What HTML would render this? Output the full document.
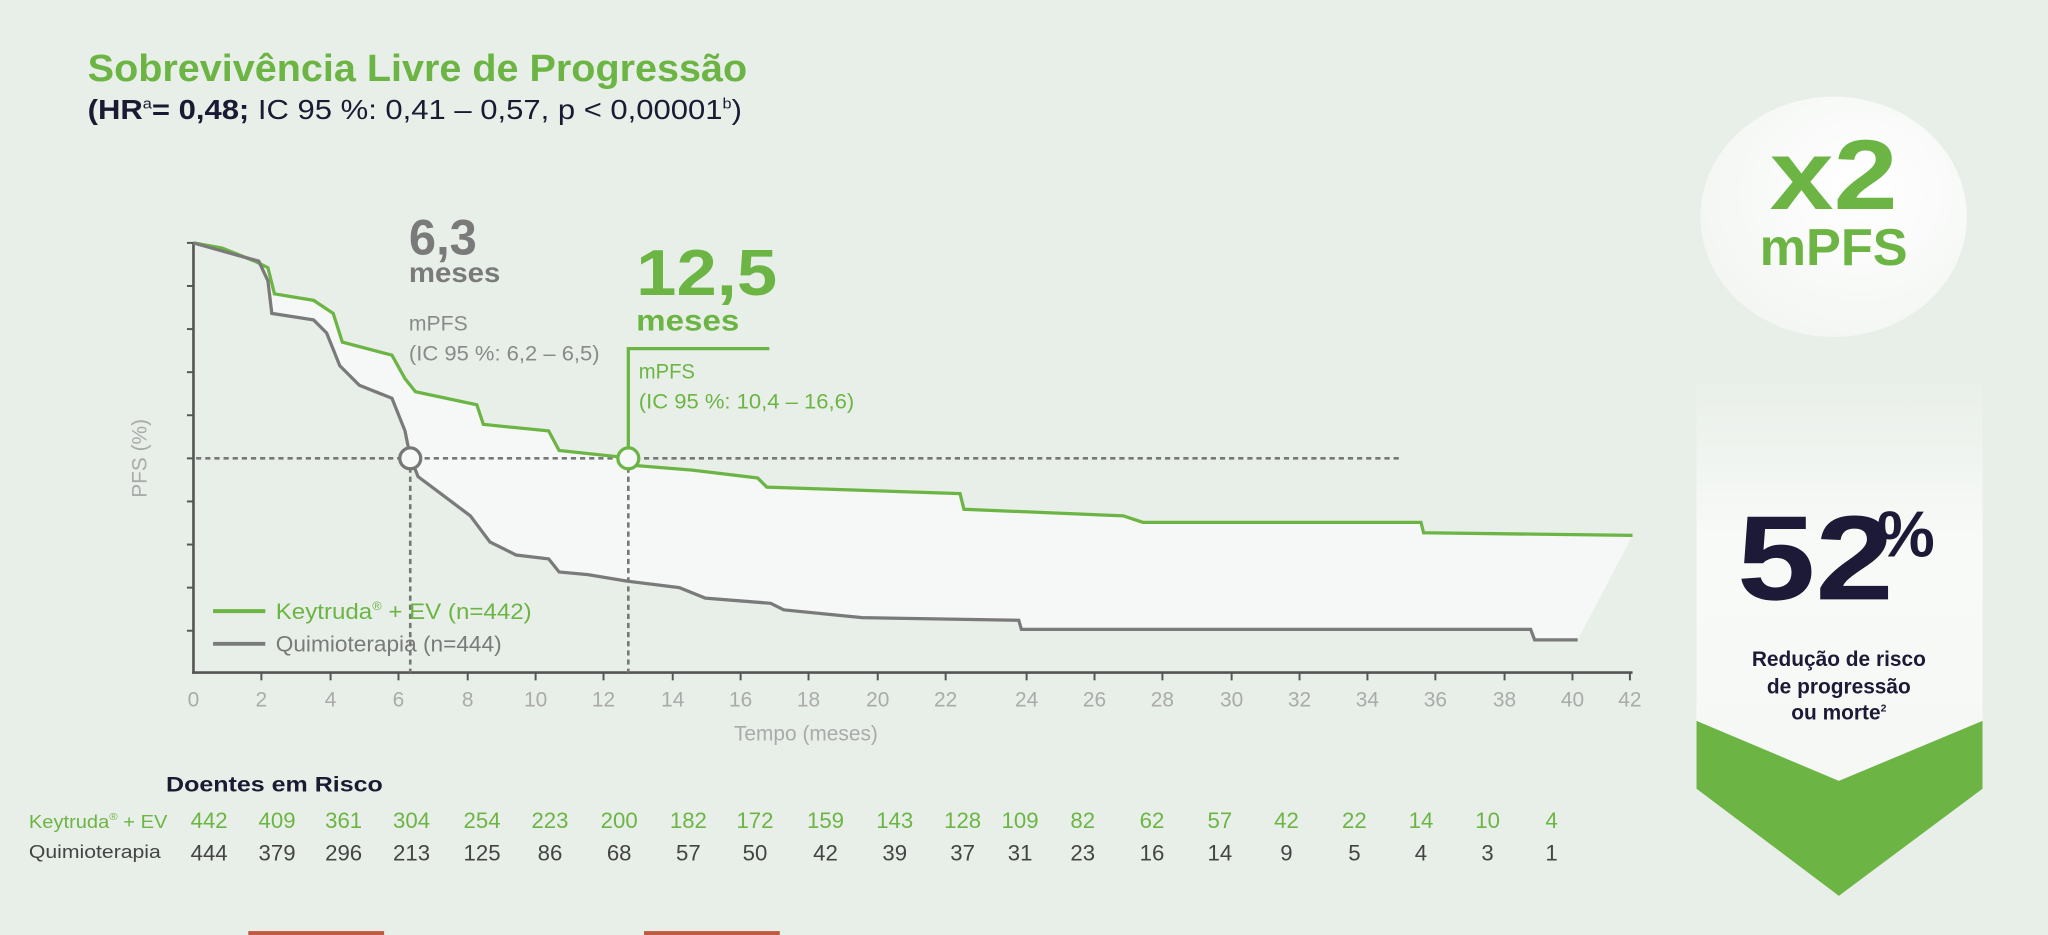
<!DOCTYPE html>
<html><head><meta charset="utf-8"><style>
html,body{margin:0;padding:0;background:#e8efe8;}
svg{display:block;}
text{font-family:"Liberation Sans",sans-serif;}
</style></head><body>
<svg width="2048" height="935" viewBox="0 0 1568 716" xmlns="http://www.w3.org/2000/svg">
<defs>
<radialGradient id="cg" cx="0.6" cy="0.4" r="0.7"><stop offset="0" stop-color="#ffffff"/><stop offset="1" stop-color="#f2f5f2"/></radialGradient>
<linearGradient id="bg2" x1="0" y1="0" x2="0" y2="1"><stop offset="0" stop-color="#e9efe9"/><stop offset="0.4" stop-color="#f8faf8"/><stop offset="1" stop-color="#f6f8f6"/></linearGradient>
</defs>
<rect width="1568" height="716" fill="#e8efe8"/>
<text x="67" y="62" font-size="29" font-weight="bold" fill="#6cb545" textLength="505" lengthAdjust="spacingAndGlyphs">Sobrevivência Livre de Progressão</text>
<text x="67" y="91" font-size="21" fill="#1a1a33" textLength="501" lengthAdjust="spacingAndGlyphs"><tspan font-weight="bold">(HR</tspan><tspan font-size="11" dy="-8">a</tspan><tspan dy="8" font-weight="bold">= 0,48;</tspan> IC 95 %: 0,41 – 0,57, p &lt; 0,00001<tspan font-size="11" dy="-8">b</tspan><tspan dy="8">)</tspan></text>

<path d="M148,186 L170,190 L195,200 L205,205 L210,225 L240,230 L255,240 L262,262 L300,272 L310,290 L318,300 L365,310 L370,325 L420,330 L428,345 L475,350 L480,356 L530,360 L580,366 L587,373 L735,378 L738,390 L860,395 L875,400 L1088,400 L1090,408 L1250,410 L1208,490 L1175,490 L1172,482 L782,482 L780,475 L660,473 L630,470 L600,467 L590,462 L540,458 L520,450 L480,445 L450,440 L428,438 L420,428 L395,425 L375,415 L360,395 L340,380 L320,365 L314,350 L310,330 L300,305 L275,295 L260,280 L250,255 L240,245 L208,240 L205,215 L198,200 L180,195 Z" fill="#f5f8f6"/>

<line x1="148" y1="186" x2="148" y2="516" stroke="#555" stroke-width="2"/>
<line x1="147" y1="515" x2="1250" y2="515" stroke="#555" stroke-width="2"/>
<g stroke="#555" stroke-width="1.5">
<line x1="143" y1="186" x2="148" y2="186"/><line x1="143" y1="219" x2="148" y2="219"/><line x1="143" y1="252" x2="148" y2="252"/><line x1="143" y1="285" x2="148" y2="285"/><line x1="143" y1="318" x2="148" y2="318"/><line x1="143" y1="351" x2="148" y2="351"/><line x1="143" y1="384" x2="148" y2="384"/><line x1="143" y1="417" x2="148" y2="417"/><line x1="143" y1="450" x2="148" y2="450"/><line x1="143" y1="483" x2="148" y2="483"/>
</g>
<g fill="#aaa" font-size="16" text-anchor="middle">
<text x="148" y="541">0</text><text x="200" y="541">2</text><text x="253" y="541">4</text><text x="305" y="541">6</text><text x="358" y="541">8</text><text x="410" y="541">10</text><text x="462" y="541">12</text><text x="515" y="541">14</text><text x="567" y="541">16</text><text x="619" y="541">18</text><text x="672" y="541">20</text><text x="724" y="541">22</text><text x="786" y="541">24</text><text x="838" y="541">26</text><text x="890" y="541">28</text><text x="943" y="541">30</text><text x="995" y="541">32</text><text x="1047" y="541">34</text><text x="1099" y="541">36</text><text x="1152" y="541">38</text><text x="1204" y="541">40</text><text x="1248" y="541">42</text>
<text x="617" y="567">Tempo (meses)</text>
</g>
<g stroke="#555" stroke-width="1.5">
<line x1="200" y1="515" x2="200" y2="521"/><line x1="253" y1="515" x2="253" y2="521"/><line x1="305" y1="515" x2="305" y2="521"/><line x1="358" y1="515" x2="358" y2="521"/><line x1="410" y1="515" x2="410" y2="521"/><line x1="462" y1="515" x2="462" y2="521"/><line x1="515" y1="515" x2="515" y2="521"/><line x1="567" y1="515" x2="567" y2="521"/><line x1="619" y1="515" x2="619" y2="521"/><line x1="672" y1="515" x2="672" y2="521"/><line x1="724" y1="515" x2="724" y2="521"/><line x1="786" y1="515" x2="786" y2="521"/><line x1="838" y1="515" x2="838" y2="521"/><line x1="890" y1="515" x2="890" y2="521"/><line x1="943" y1="515" x2="943" y2="521"/><line x1="995" y1="515" x2="995" y2="521"/><line x1="1047" y1="515" x2="1047" y2="521"/><line x1="1099" y1="515" x2="1099" y2="521"/><line x1="1152" y1="515" x2="1152" y2="521"/><line x1="1204" y1="515" x2="1204" y2="521"/><line x1="1248" y1="515" x2="1248" y2="521"/>
</g>
<text transform="translate(112,351) rotate(-90)" fill="#aaa" font-size="16" text-anchor="middle">PFS (%)</text>

<g stroke="#777" stroke-width="2" stroke-dasharray="4,3" fill="none">
<line x1="150" y1="351" x2="1072" y2="351"/>
<line x1="314" y1="358" x2="314" y2="515"/>
<line x1="481" y1="358" x2="481" y2="515"/>
</g>

<polyline fill="none" stroke="#6cb545" stroke-width="2.5" points="148,186 170,190 195,200 205,205 210,225 240,230 255,240 262,262 300,272 310,290 318,300 365,310 370,325 420,330 428,345 475,350 480,356 530,360 580,366 587,373 735,378 738,390 860,395 875,400 1088,400 1090,408 1250,410"/>
<polyline fill="none" stroke="#7a7a7a" stroke-width="2.5" points="148,186 180,195 198,200 205,215 208,240 240,245 250,255 260,280 275,295 300,305 310,330 314,350 320,365 340,380 360,395 375,415 395,425 420,428 428,438 450,440 480,445 520,450 540,458 590,462 600,467 630,470 660,473 780,475 782,482 1172,482 1175,490 1208,490"/>
<circle cx="314" cy="351" r="8" fill="#f5f8f6" stroke="#777" stroke-width="2.5"/>
<circle cx="481" cy="351" r="8" fill="#f5f8f6" stroke="#6cb545" stroke-width="2.5"/>
<polyline fill="none" stroke="#6cb545" stroke-width="2.5" points="481,343 481,267 589,267"/>

<text x="313" y="195" font-size="38" font-weight="bold" fill="#7a7a7a" textLength="52" lengthAdjust="spacingAndGlyphs">6,3</text>
<text x="313" y="216" font-size="21" font-weight="bold" fill="#7a7a7a" textLength="70" lengthAdjust="spacingAndGlyphs">meses</text>
<text x="313" y="253" font-size="16" fill="#8a8a8a" textLength="45" lengthAdjust="spacingAndGlyphs">mPFS</text>
<text x="313" y="276" font-size="16" fill="#8a8a8a" textLength="146" lengthAdjust="spacingAndGlyphs">(IC 95 %: 6,2 – 6,5)</text>
<text x="487" y="226" font-size="50" font-weight="bold" fill="#6cb545" textLength="108" lengthAdjust="spacingAndGlyphs">12,5</text>
<text x="487" y="253" font-size="23" font-weight="bold" fill="#6cb545" textLength="79" lengthAdjust="spacingAndGlyphs">meses</text>
<text x="489" y="290" font-size="16" fill="#6cb545" textLength="43" lengthAdjust="spacingAndGlyphs">mPFS</text>
<text x="489" y="313" font-size="16" fill="#6cb545" textLength="165" lengthAdjust="spacingAndGlyphs">(IC 95 %: 10,4 – 16,6)</text>

<line x1="163" y1="468" x2="203" y2="468" stroke="#6cb545" stroke-width="3"/>
<line x1="163" y1="493" x2="203" y2="493" stroke="#7a7a7a" stroke-width="3"/>
<text x="211" y="474" font-size="17" fill="#6cb545" textLength="196" lengthAdjust="spacingAndGlyphs">Keytruda<tspan font-size="9" dy="-7">®</tspan><tspan dy="7"> + EV (n=442)</tspan></text>
<text x="211" y="499" font-size="17" fill="#7a7a7a" textLength="173" lengthAdjust="spacingAndGlyphs">Quimioterapia (n=444)</text>

<text x="127" y="606" font-size="16" font-weight="bold" fill="#1a1a33" textLength="166" lengthAdjust="spacingAndGlyphs">Doentes em Risco</text>
<text x="22" y="634" font-size="14" fill="#6cb545" textLength="106" lengthAdjust="spacingAndGlyphs">Keytruda<tspan font-size="8" dy="-6">®</tspan><tspan dy="6"> + EV</tspan></text>
<text x="22" y="657" font-size="14" fill="#444" textLength="101" lengthAdjust="spacingAndGlyphs">Quimioterapia</text>
<g font-size="17" text-anchor="middle" fill="#6cb545">
<text x="160" y="634">442</text><text x="212" y="634">409</text><text x="263" y="634">361</text><text x="315" y="634">304</text><text x="369" y="634">254</text><text x="421" y="634">223</text><text x="474" y="634">200</text><text x="527" y="634">182</text><text x="578" y="634">172</text><text x="632" y="634">159</text><text x="685" y="634">143</text><text x="737" y="634">128</text><text x="781" y="634">109</text><text x="829" y="634">82</text><text x="882" y="634">62</text><text x="934" y="634">57</text><text x="985" y="634">42</text><text x="1037" y="634">22</text><text x="1088" y="634">14</text><text x="1139" y="634">10</text><text x="1188" y="634">4</text>
</g>
<g font-size="17" text-anchor="middle" fill="#444">
<text x="160" y="659">444</text><text x="212" y="659">379</text><text x="263" y="659">296</text><text x="315" y="659">213</text><text x="369" y="659">125</text><text x="421" y="659">86</text><text x="474" y="659">68</text><text x="527" y="659">57</text><text x="578" y="659">50</text><text x="632" y="659">42</text><text x="685" y="659">39</text><text x="737" y="659">37</text><text x="781" y="659">31</text><text x="829" y="659">23</text><text x="882" y="659">16</text><text x="934" y="659">14</text><text x="985" y="659">9</text><text x="1037" y="659">5</text><text x="1088" y="659">4</text><text x="1139" y="659">3</text><text x="1188" y="659">1</text>
</g>
<rect x="190" y="713" width="104" height="3" fill="#c05a40"/>
<rect x="493" y="713" width="104" height="3" fill="#c05a40"/>

<ellipse cx="1404" cy="166" rx="102" ry="92" fill="url(#cg)"/>
<text x="1404" y="160" font-size="76" font-weight="bold" fill="#6cb545" text-anchor="middle" textLength="98" lengthAdjust="spacingAndGlyphs">x2</text>
<text x="1404" y="203" font-size="40" font-weight="bold" fill="#6cb545" text-anchor="middle">mPFS</text>
<path d="M1299,292 L1518,292 L1518,552 L1408,598 L1299,552 Z" fill="url(#bg2)"/>
<path d="M1299,552 L1408,598 L1518,552 L1518,604 L1408,686 L1299,604 Z" fill="#6cb545"/>
<text x="1330" y="459" font-size="92" font-weight="bold" fill="#1c1a36" textLength="120" lengthAdjust="spacingAndGlyphs">52</text>
<text x="1437" y="426" font-size="50" font-weight="bold" fill="#1c1a36">%</text>
<text x="1408" y="510" font-size="16" font-weight="bold" fill="#1c1a36" text-anchor="middle">Redução de risco</text>
<text x="1408" y="531" font-size="16" font-weight="bold" fill="#1c1a36" text-anchor="middle">de progressão</text>
<text x="1408" y="551" font-size="16" font-weight="bold" fill="#1c1a36" text-anchor="middle">ou morte<tspan font-size="8" dy="-6">2</tspan></text>
</svg>
</body></html>
